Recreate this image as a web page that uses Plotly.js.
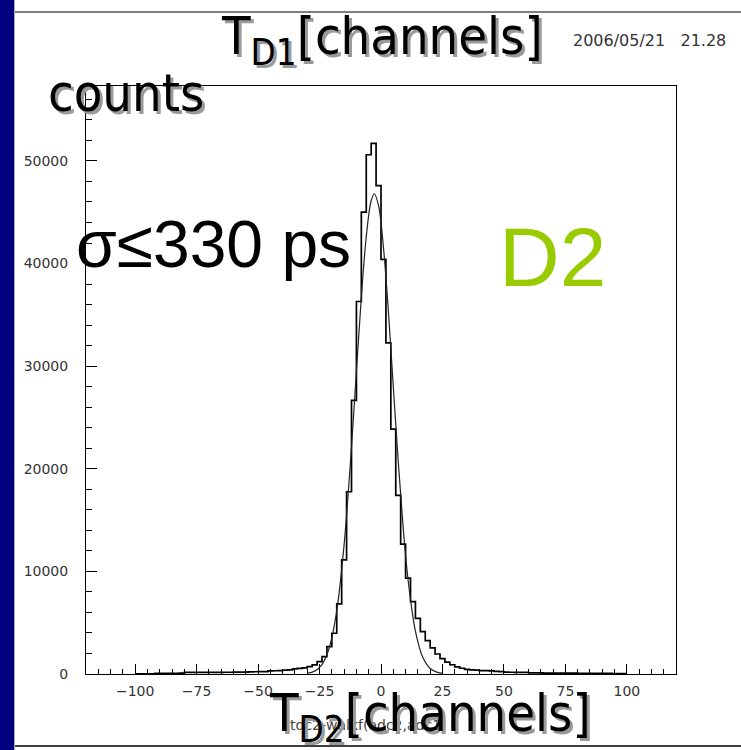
<!DOCTYPE html>
<html>
<head>
<meta charset="utf-8">
<script src="https://cdn.plot.ly/plotly-3.0.1.min.js"></script>
<style>
  html, body { margin: 0; padding: 0; background: #ffffff; }
  #chart { width: 741px; height: 750px; }
</style>
</head>
<body>
<div id="chart"></div>
<script>
// Histogram of T_D2 in TDC channels: 100 bins of width 2 from -100 to 100
const binLow = -100;
const binWidth = 2;
const counts = [
  25, 25, 25, 25,
  60, 65, 70, 70, 75, 80,
  150, 150, 155, 155, 160, 160, 165, 165, 170, 170, 175, 180, 185,
  210, 220, 225, 235,
  300, 315, 330,
  385, 395,
  500, 540, 600,
  710, 880, 1200, 1690, 2660, 3970, 6830, 11120, 17760, 26660, 36300, 45000, 50600, 51700, 47600,
  40400, 32260, 23870, 17400, 12650, 9340, 7050, 5430, 4130, 3250,
  2550, 1950, 1500, 1150, 900, 700, 560, 460, 400, 380,
  330, 320, 300,
  250, 230,
  180, 170, 165, 160, 155,
  110, 105, 100, 95, 95, 90, 90, 85, 80, 80,
  75, 70, 70, 65, 60, 60, 55, 50, 50, 45
];

// Gaussian fit curve over the peak
const fitX = [-30, -27, -24, -21, -18, -15, -12, -10, -8, -6, -4, -2.7, -1, 1, 3, 5, 7, 9, 11, 14, 17, 20, 23, 25];
const fitY = [74, 282, 922, 2578, 6168, 12630, 22140, 29510, 36700, 42590, 46120, 46800,
              45640, 41570, 35330, 28010, 20730, 14310, 9215, 4185, 1624, 540, 154, 61];

const xTickVals = [-100, -75, -50, -25, 0, 25, 50, 75, 100];
const yTickVals = [0, 10000, 20000, 30000, 40000, 50000];
const xRange = [-120, 120];
const yRange = [0, 57300];

// step outline: left edges plus the closing right edge
const edges = counts.map((_, i) => binLow + i * binWidth);
edges.push(binLow + counts.length * binWidth);
const stepY = counts.concat([counts[counts.length - 1]]);

const M = { l: 86, r: 65, t: 86, b: 76 };
const W = 741 - M.l - M.r;
const H = 750 - M.t - M.b;
const px = v => (v - M.l) / W;
const py = v => (750 - M.b - v) / H;

const titleFont = "'DejaVu Sans Condensed', 'DejaVu Sans', sans-serif";
const plainFont = "'Liberation Sans', Arial, sans-serif";
const tickFont = "'DejaVu Sans', sans-serif";

function shadowed(text, x, y, size) {
  const base = { xref: 'paper', yref: 'paper', showarrow: false, text: text,
                 xanchor: 'center', yanchor: 'middle' };
  return [
    Object.assign({}, base, { x: px(x + 3), y: py(y + 3),
      font: { family: titleFont, size: size, color: '#9a9a9a' } }),
    Object.assign({}, base, { x: px(x), y: py(y),
      font: { family: titleFont, size: size, color: '#000000' } })
  ];
}

const annotations = [].concat(
  [{ xref: 'paper', yref: 'paper', showarrow: false, text: 'tdc2-walkf(adc2,adc1)',
     x: px(288), y: py(725), xanchor: 'left', yanchor: 'middle',
     font: { family: tickFont, size: 14, color: '#444' } }],
  shadowed('T<sub>D1</sub>[channels]', 382, 40, 52),
  shadowed('counts', 126, 93, 52),
  shadowed('T<sub>D2</sub>[channels]', 430, 717, 52),
  [
    { xref: 'paper', yref: 'paper', showarrow: false, text: '2006/05/21\u00a0\u00a0\u00a021.28',
      x: px(571), y: py(40), xanchor: 'left', yanchor: 'middle',
      font: { family: tickFont, size: 16, color: '#333' } },
    { xref: 'paper', yref: 'paper', showarrow: false, text: 'σ≤330 ps',
      x: px(213), y: py(244), xanchor: 'center', yanchor: 'middle',
      font: { family: plainFont, size: 66, color: '#000' } },
    { xref: 'paper', yref: 'paper', showarrow: false, text: 'D2',
      x: px(552), y: py(257), xanchor: 'center', yanchor: 'middle',
      font: { family: plainFont, size: 84, color: '#99cc00' } }
  ]
);

const shapes = [
  // slide frame: navy strip on the left, rules on top and bottom
  { type: 'rect', xref: 'paper', yref: 'paper', x0: px(0), x1: px(14), y0: py(750), y1: py(0),
    fillcolor: '#000080', line: { width: 0 }, layer: 'below' },
  { type: 'line', xref: 'paper', yref: 'paper', x0: px(14.5), x1: px(14.5), y0: py(750), y1: py(0),
    line: { color: '#b0b0b0', width: 1 } },
  { type: 'line', xref: 'paper', yref: 'paper', x0: px(15), x1: px(741), y0: py(12), y1: py(12),
    line: { color: '#000', width: 1 } },
  { type: 'line', xref: 'paper', yref: 'paper', x0: px(15), x1: px(741), y0: py(746), y1: py(746),
    line: { color: '#000', width: 1.5 } }
];

const traces = [
  { type: 'scatter', mode: 'lines', x: edges, y: stepY,
    line: { shape: 'hv', color: '#000', width: 1.7 }, hoverinfo: 'skip' },
  { type: 'scatter', mode: 'lines', x: fitX, y: fitY,
    line: { shape: 'spline', smoothing: 1, color: '#222', width: 1.2 }, hoverinfo: 'skip' }
];

const layout = {
  width: 741, height: 750,
  margin: M,
  paper_bgcolor: '#ffffff', plot_bgcolor: '#ffffff',
  showlegend: false,
  font: { family: tickFont, size: 14, color: '#333' },
  xaxis: {
    range: xRange, tickmode: 'array', tickvals: xTickVals,
    ticks: 'inside', ticklen: 10, tickwidth: 1, tickcolor: '#000',
    minor: { ticks: 'inside', ticklen: 5, dtick: 5, tick0: 0, tickwidth: 1, tickcolor: '#000', showgrid: false },
    showline: true, linecolor: '#000', linewidth: 1, mirror: true,
    showgrid: false, zeroline: false, ticklabelstandoff: 4,
    tickfont: { family: tickFont, size: 14, color: '#333' }
  },
  yaxis: {
    range: yRange, tickmode: 'array', tickvals: yTickVals,
    tickformat: 'd',
    ticks: 'inside', ticklen: 11, tickwidth: 1, tickcolor: '#000',
    minor: { ticks: 'inside', ticklen: 6, dtick: 2000, tick0: 0, tickwidth: 1, tickcolor: '#000', showgrid: false },
    showline: true, linecolor: '#000', linewidth: 1, mirror: true,
    showgrid: false, zeroline: false, ticklabelstandoff: 14,
    tickfont: { family: tickFont, size: 14, color: '#333' }
  },
  annotations: annotations,
  shapes: shapes
};

Plotly.newPlot('chart', traces, layout, { displayModeBar: false, staticPlot: true });
</script>
</body>
</html>
